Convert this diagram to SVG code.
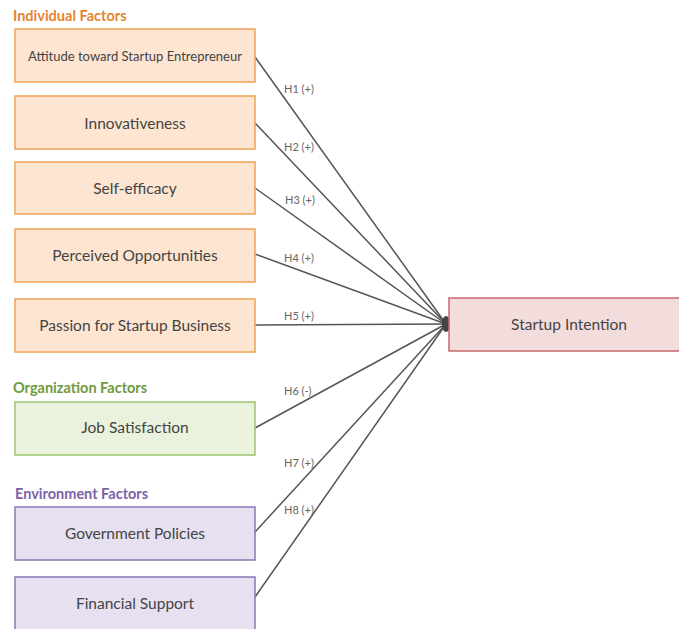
<svg xmlns="http://www.w3.org/2000/svg" width="679" height="629" viewBox="0 0 679 629">
<style>
.grp{font-family:Lato,"Open Sans",sans-serif;font-size:14.5px;font-weight:bold}
.lbl{font-family:Lato,"Open Sans",sans-serif;font-size:15.5px;fill:#444;text-anchor:middle;dominant-baseline:central}
.ind rect{fill:#fde5d1;stroke:#f0a35a;stroke-width:1.5}
.org rect{fill:#eaf2dd;stroke:#9dc46c;stroke-width:1.5}
.env rect{fill:#e6e0f0;stroke:#8d76b5;stroke-width:1.5}
.out rect{fill:#f3dcdc;stroke:#c8686b;stroke-width:1.5}
.conn line{stroke:#555;stroke-width:1.5}
.h{font-family:Lato,"Open Sans",sans-serif;font-size:11px;fill:#666}
</style>
<rect width="679" height="629" fill="#fff"/>
<text class="grp" x="13" y="21" fill="#e4852f">Individual Factors</text>
<text class="grp" x="13" y="393" fill="#6f9a3e">Organization Factors</text>
<text class="grp" x="15" y="499" fill="#7d62a8">Environment Factors</text>

<g id="conns" class="conn">
<line x1="255" y1="57" x2="446" y2="324"/>
<line x1="255" y1="123" x2="446" y2="324"/>
<line x1="255" y1="188" x2="446" y2="324"/>
<line x1="255" y1="254" x2="446" y2="324"/>
<line x1="255" y1="325" x2="446" y2="324"/>
<line x1="255" y1="428" x2="446" y2="324"/>
<line x1="255" y1="532" x2="446" y2="324"/>
<line x1="255" y1="597" x2="446" y2="324"/>
<ellipse cx="446" cy="324" rx="4" ry="8" fill="#444"/>
</g>
<g id="hlabels">
<text class="h" x="284" y="93">H1 (+)</text>
<text class="h" x="284" y="151">H2 (+)</text>
<text class="h" x="285" y="204">H3 (+)</text>
<text class="h" x="284" y="262">H4 (+)</text>
<text class="h" x="284" y="320">H5 (+)</text>
<text class="h" x="284" y="395">H6 (-)</text>
<text class="h" x="284" y="467">H7 (+)</text>
<text class="h" x="284" y="514">H8 (+)</text>
</g>

<g id="n1" class="ind"><rect x="15" y="29" width="240" height="53"/><text class="lbl" x="135" y="55.5" style="font-size:13px">Attitude toward Startup Entrepreneur</text></g>
<g id="n2" class="ind"><rect x="15" y="96" width="240" height="53"/><text class="lbl" x="135" y="122.5">Innovativeness</text></g>
<g id="n3" class="ind"><rect x="15" y="162" width="240" height="52"/><text class="lbl" x="135" y="188">Self-efficacy</text></g>
<g id="n4" class="ind"><rect x="15" y="229" width="240" height="53"/><text class="lbl" x="135" y="255">Perceived Opportunities</text></g>
<g id="n5" class="ind"><rect x="15" y="299" width="240" height="53"/><text class="lbl" x="135" y="325">Passion for Startup Business</text></g>
<g id="n6" class="org"><rect x="15" y="402" width="240" height="53"/><text class="lbl" x="135" y="427">Job Satisfaction</text></g>
<g id="n7" class="env"><rect x="15" y="507" width="240" height="53"/><text class="lbl" x="135" y="533">Government Policies</text></g>
<g id="n8" class="env"><rect x="15" y="577" width="240" height="53"/><text class="lbl" x="135" y="603">Financial Support</text></g>
<g id="n9" class="out"><rect x="449" y="298" width="235" height="53"/><text class="lbl" x="569" y="324">Startup Intention</text></g>
</svg>
